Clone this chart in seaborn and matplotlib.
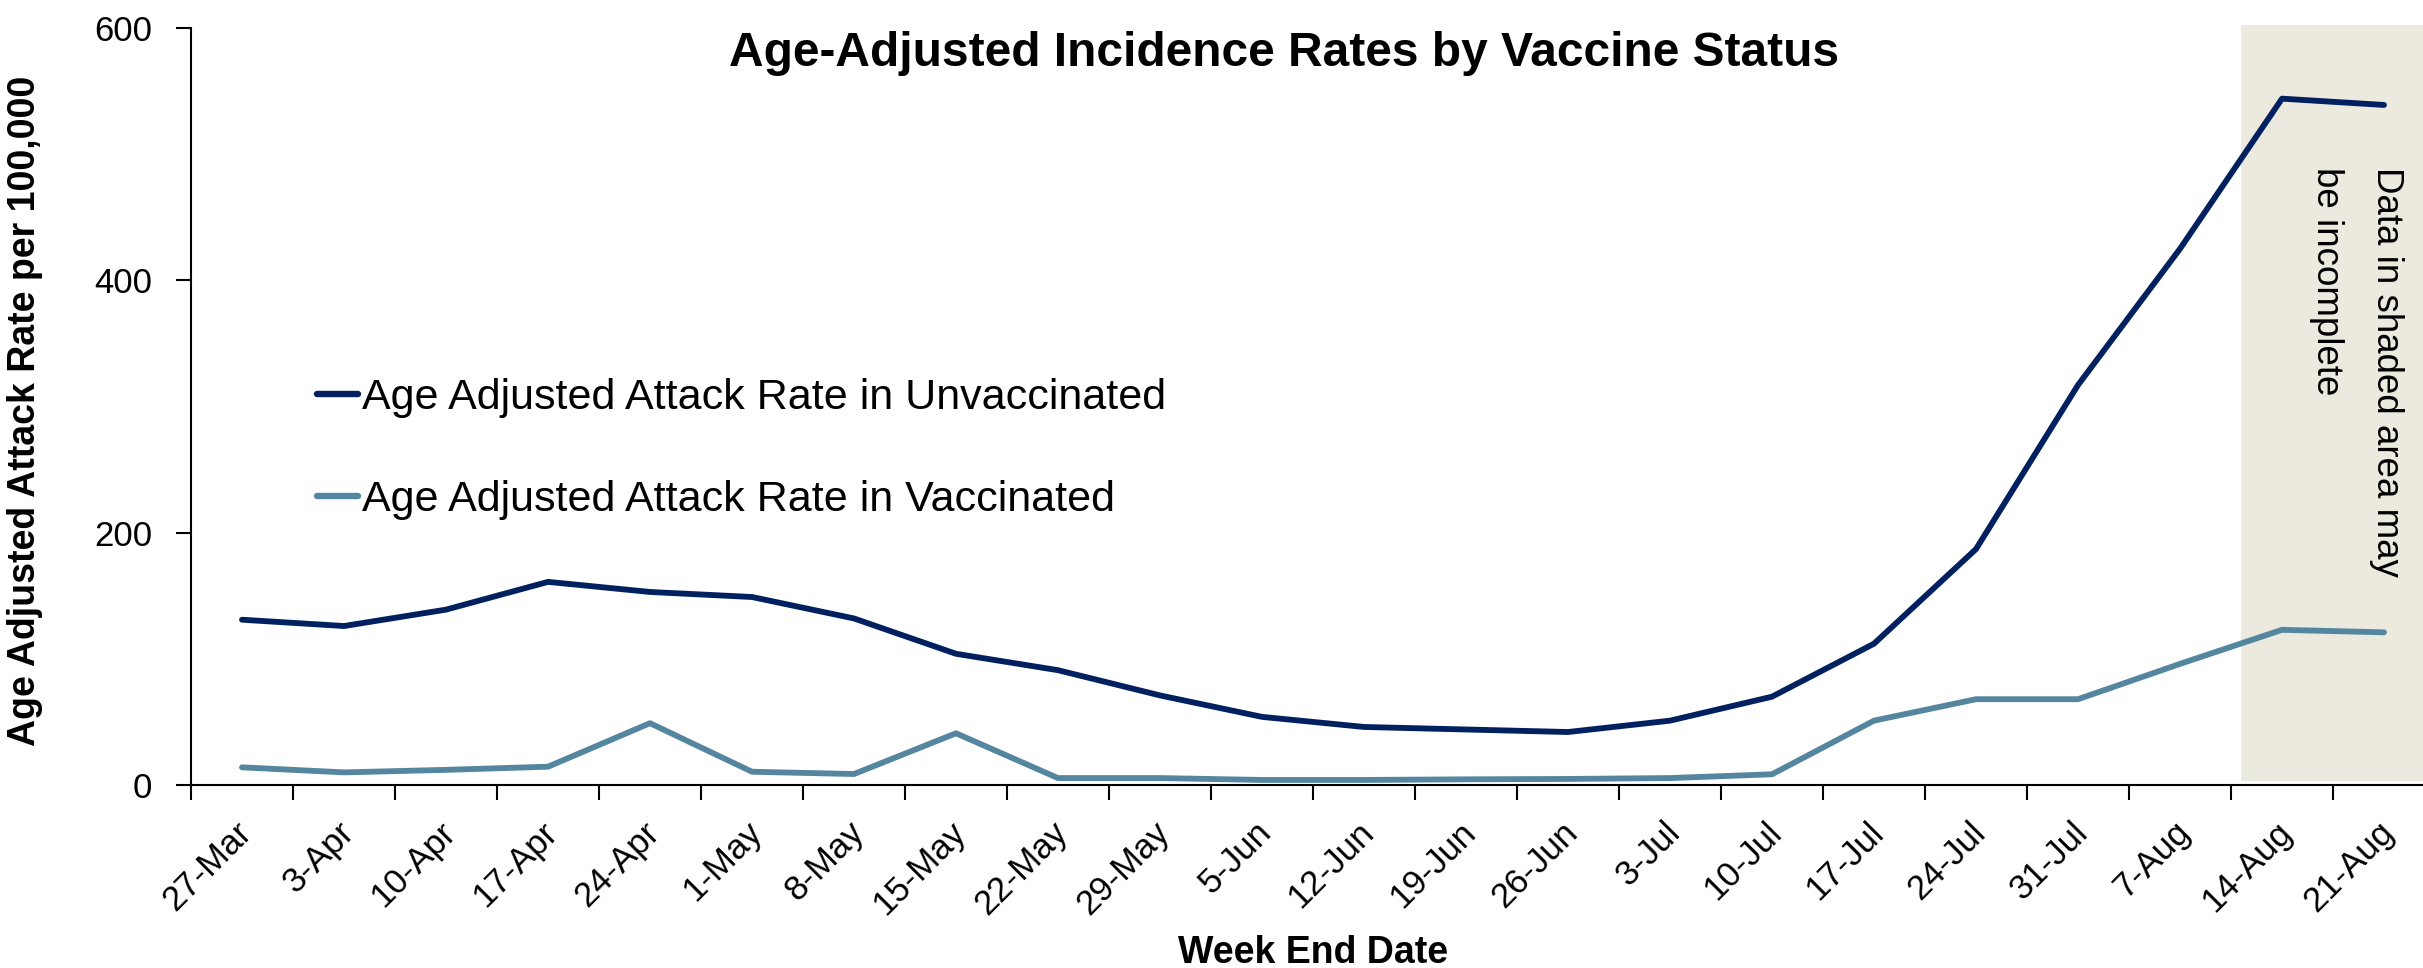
import matplotlib
matplotlib.use("Agg")
import matplotlib.pyplot as plt
import matplotlib.transforms as mtransforms
from matplotlib.lines import Line2D
import numpy as np
import pandas as pd
import seaborn as sns

weeks = ["27-Mar", "3-Apr", "10-Apr", "17-Apr", "24-Apr", "1-May", "8-May",
         "15-May", "22-May", "29-May", "5-Jun", "12-Jun", "19-Jun", "26-Jun",
         "3-Jul", "10-Jul", "17-Jul", "24-Jul", "31-Jul", "7-Aug", "14-Aug",
         "21-Aug"]
unvaccinated = [131, 126, 139, 161, 153, 149, 132, 104, 91, 71, 54, 46, 44,
                42, 51, 70, 112, 187, 317, 425, 544, 539]
vaccinated = [14, 10, 12, 14.5, 49, 10.5, 8.7, 41, 5.5, 5.5, 4, 4, 4.5, 4.8,
              5.5, 8.5, 51, 68, 68, 96, 123, 121]
series_names = ["Age Adjusted Attack Rate in Unvaccinated",
                "Age Adjusted Attack Rate in Vaccinated"]
y_ticks = [0, 200, 400, 600]
incomplete_from = 19.6   # shaded region (weeks whose data may still change)
incomplete_to = 21.4

sns.set_style("ticks")
plt.rcParams["font.family"] = ["Liberation Sans", "DejaVu Sans"]
for key in ["text.color", "axes.labelcolor", "xtick.color", "ytick.color",
            "axes.edgecolor"]:
    plt.rcParams[key] = "black"

df = pd.DataFrame({
    "week": weeks * 2,
    "pos": list(range(len(weeks))) * 2,
    "rate": unvaccinated + vaccinated,
    "series": [series_names[0]] * len(weeks) + [series_names[1]] * len(weeks),
})

W, H, DPI = 2423, 968, 100
fig = plt.figure(figsize=(W / DPI, H / DPI), dpi=DPI)
left_px, right_px, top_px, bottom_px = 191, 2435, 28, 785
ax = fig.add_axes([left_px / W, 1 - bottom_px / H,
                   (right_px - left_px) / W, (bottom_px - top_px) / H])

palette = {series_names[0]: "#002060", series_names[1]: "#5586A0"}

# shaded band for possibly incomplete weeks
ax.fill_between([incomplete_from, incomplete_to], 3, 602, color="#ECE9DF",
                lw=0, zorder=0, clip_on=False)

sns.lineplot(data=df, x="pos", y="rate", hue="series", palette=palette,
             linewidth=4.2, solid_capstyle="round", solid_joinstyle="round",
             ax=ax, legend=False, zorder=3)

ax.set_xlim(-0.5, len(weeks) - 0.5)
ax.set_ylim(0, 600)
ax.set_yticks(y_ticks)
ax.set_yticklabels([str(v) for v in y_ticks])
ax.set_xticks(range(len(weeks)))
ax.set_xticklabels(weeks, rotation=45, ha="right", va="top",
                   rotation_mode="anchor")
ax.set_xticks(np.arange(-0.5, len(weeks), 1.0), minor=True)
ax.tick_params(axis="x", which="major", length=0, pad=22, labelsize=25)
ax.tick_params(axis="x", which="minor", length=11, width=1.5, direction="out")
ax.tick_params(axis="y", length=11, width=1.5, pad=17, labelsize=25)

for s in ["top", "right"]:
    ax.spines[s].set_visible(False)
for s in ["left", "bottom"]:
    ax.spines[s].set_linewidth(1.5)
    ax.spines[s].set_color("black")

offset = mtransforms.ScaledTranslation(-0.07, 0, fig.dpi_scale_trans)
for lbl in ax.get_xticklabels():
    lbl.set_transform(lbl.get_transform() + offset)

ax.set_xlabel("Week End Date", fontsize=27, fontweight="bold")
ax.xaxis.set_label_coords(0.5, -0.198)
ax.set_ylabel("Age Adjusted Attack Rate per 100,000", fontsize=27,
              fontweight="bold")
ax.yaxis.set_label_coords(-0.066, 0.494)

fig.text(0.530, 1 - 53 / H, "Age-Adjusted Incidence Rates by Vaccine Status",
         ha="center", va="center", fontsize=34.5, fontweight="bold")

handles = [Line2D([], [], color=palette[n], lw=4.6, solid_capstyle="round")
           for n in series_names]
fs_leg = 31
leg = ax.legend(handles, series_names, loc="upper left",
                bbox_to_anchor=((278 - left_px) / (right_px - left_px),
                                1 - (339 - top_px) / (bottom_px - top_px)),
                frameon=False, handlelength=0.95, handletextpad=0.1,
                labelspacing=1.45, prop={"size": fs_leg})

ax.text(20.73, 490, "Data in shaded area may\nbe incomplete", rotation=270,
        ha="center", va="top", multialignment="left", fontsize=26.5,
        linespacing=1.9, zorder=4)

fig.savefig("out.png", dpi=DPI)
